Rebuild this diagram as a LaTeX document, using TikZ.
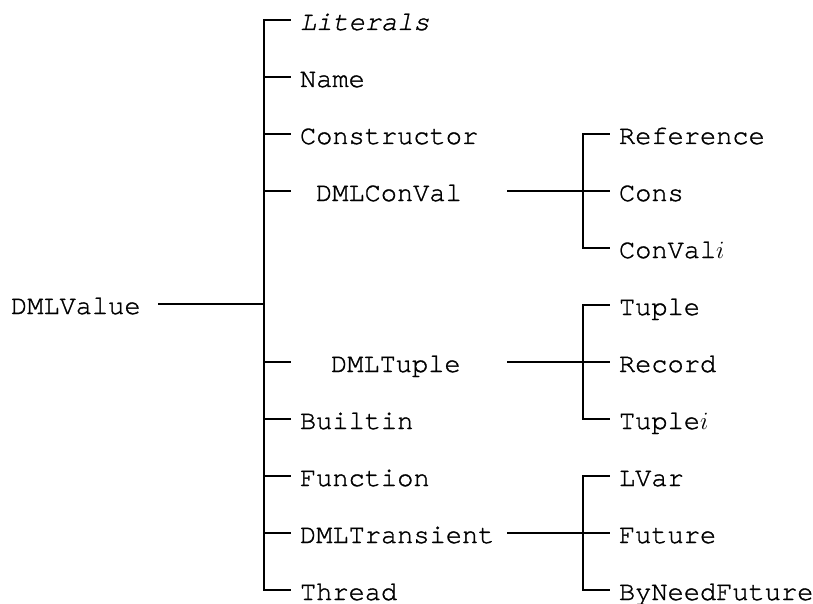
\documentclass[tikz,border=0pt]{standalone}
\usepackage{fontspec}
\setmonofont[FakeBold=1.2,ItalicFeatures={FakeBold=1.2}]{TeX Gyre Cursor}
\begin{document}
\begin{tikzpicture}[x=1pt,y=-1pt,
  lbl/.style={font=\fontsize{27}{30}\selectfont\ttfamily, inner sep=0pt, outer sep=0pt,
              anchor=west, text height=20pt, text depth=0pt},
  trunk/.style={line width=2.9pt, line cap=rect},
  twig/.style={line width=2.5pt, line cap=rect}]
\useasboundingbox (0,0) rectangle (813,604);

% root and first level
\node[lbl] (root) at (11,304) {DMLValue};
\node[lbl] (lit)   at (300,20)  {\itshape Literals};
\node[lbl] (name)  at (300,77)  {Name};
\node[lbl] (cons)  at (300,134) {Constructor};
\node[lbl] (conv)  at (316,191) {DMLConVal};
\node[lbl] (tup)   at (331,362) {DMLTuple};
\node[lbl] (bui)   at (300,419) {Builtin};
\node[lbl] (fun)   at (300,476) {Function};
\node[lbl] (tra)   at (300,533) {DMLTransient};
\node[lbl] (thr)   at (300,590) {Thread};

% second level
\node[lbl] (ref)   at (619,134) {Reference};
\node[lbl] (cns)   at (619,191) {Cons};
\node[lbl] (cvi)   at (619,248) {ConVal$i$};
\node[lbl] (tpl)   at (619,305) {Tuple};
\node[lbl] (rec)   at (619,362) {Record};
\node[lbl] (tpi)   at (619,419) {Tuple$i$};
\node[lbl] (lv)    at (619,476) {LVar};
\node[lbl] (fut)   at (619,533) {Future};
\node[lbl] (bnf)   at (619,590) {ByNeedFuture};

% junctions
\coordinate (j0) at (264,304);
\coordinate (j1) at (583,191);
\coordinate (j2) at (583,362);
\coordinate (j3) at (583,533);
\coordinate (s1) at (508,191);
\coordinate (s2) at (508,362);
\coordinate (s3) at (508,533);

% main trunk
\draw[trunk] (root.east) ++(19,0) -- (j0);
\draw[trunk] ([xshift=-10pt]lit.west) -| (j0) |- ([xshift=-10pt]thr.west);
\foreach \n in {name,cons,bui,fun,tra}
  \draw[trunk] (j0 |- \n.west) -- +(26,0);
\draw[trunk] (j0 |- conv.west) -- +(26,0);
\draw[trunk] (j0 |- tup.west) -- +(26,0);

% sub-trees
\draw[twig] (s1) -- (j1);
\draw[twig] ([xshift=-10pt]ref.west) -| (j1) |- ([xshift=-10pt]cvi.west);
\draw[twig] (j1) -- ([xshift=-10pt]cns.west);

\draw[twig] (s2) -- (j2);
\draw[twig] ([xshift=-10pt]tpl.west) -| (j2) |- ([xshift=-10pt]tpi.west);
\draw[twig] (j2) -- ([xshift=-10pt]rec.west);

\draw[twig] (s3) -- (j3);
\draw[twig] ([xshift=-10pt]lv.west) -| (j3) |- ([xshift=-10pt]bnf.west);
\draw[twig] (j3) -- ([xshift=-10pt]fut.west);
\end{tikzpicture}
\end{document}
